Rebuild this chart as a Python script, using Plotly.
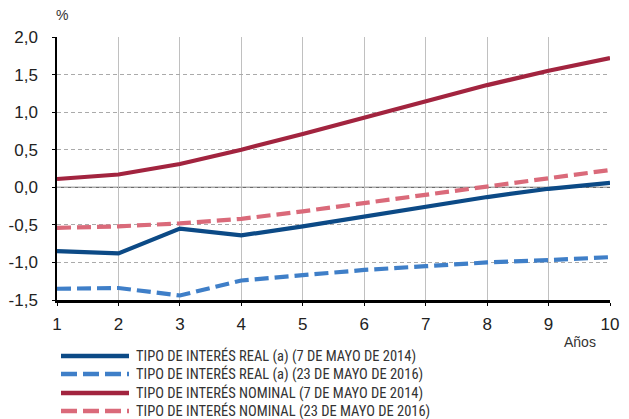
import plotly.graph_objects as go

years = [1, 2, 3, 4, 5, 6, 7, 8, 9, 10]
real_2014 = [-0.85, -0.88, -0.55, -0.64, -0.52, -0.39, -0.26, -0.13, -0.02, 0.06]
real_2016 = [-1.35, -1.34, -1.44, -1.24, -1.17, -1.10, -1.05, -1.00, -0.97, -0.93]
nominal_2014 = [0.11, 0.17, 0.31, 0.50, 0.71, 0.93, 1.15, 1.36, 1.55, 1.72]
nominal_2016 = [-0.54, -0.52, -0.48, -0.42, -0.32, -0.21, -0.10, 0.01, 0.12, 0.23]

names = [
    "TIPO DE INTERÉS REAL (a) (7 DE MAYO DE 2014)",
    "TIPO DE INTERÉS REAL (a) (23 DE MAYO DE 2016)",
    "TIPO DE INTERÉS NOMINAL (7 DE MAYO DE 2014)",
    "TIPO DE INTERÉS NOMINAL (23 DE MAYO DE 2016)",
]
series = [real_2014, real_2016, nominal_2014, nominal_2016]
colors = ["#0c4a86", "#3f7fc8", "#a2243f", "#da6a7a"]
dashes = ["solid", "14px,6px", "solid", "14px,6px"]
legend_dashes = ["solid", "16px,6px", "solid", "16px,6px"]

y_ticks = [-1.5, -1.0, -0.5, 0.0, 0.5, 1.0, 1.5, 2.0]
y_tick_labels = ["-1,5", "-1,0", "-0,5", "0,0", "0,5", "1,0", "1,5", "2,0"]

fig = go.Figure()
for i in [3, 2, 1, 0]:
    fig.add_trace(go.Scatter(
        x=years, y=series[i], mode="lines", name=names[i],
        line=dict(color=colors[i], width=4.2, dash=dashes[i]),
        showlegend=False,
    ))

# page body has an 8px margin; target coordinates are in window pixels
OFF = 8
W, H = 629 - OFF, 419 - OFF
PL, PR, PT, PB = 57, 610, 37, 300  # plot area in window pixels
L, T = PL - OFF, PT - OFF
R, B = 629 - PR, 419 - PB
pw, ph = PR - PL, PB - PT

def px_x(x):
    return (x - PL) / pw

def px_y(y):
    return (PB - y) / ph

shapes = []
annotations = []
legend_rows = [356, 374, 393, 411]
for i, ypx in enumerate(legend_rows):
    yp = px_y(ypx)
    shapes.append(dict(type="line", xref="paper", yref="paper",
                       x0=px_x(61), x1=px_x(129), y0=yp, y1=yp,
                       line=dict(color=colors[i], width=4.5, dash=legend_dashes[i])))
    annotations.append(dict(xref="paper", yref="paper", x=px_x(134), y=yp,
                            text=names[i], showarrow=False, xanchor="left", yanchor="middle",
                            font=dict(family="Liberation Sans Narrow, Roboto Condensed, DejaVu Sans Condensed, sans-serif",
                                      size=14.5, color="#333333")))

annotations.append(dict(xref="paper", yref="paper", x=px_x(62), y=px_y(15),
                        text="%", showarrow=False, xanchor="center", yanchor="middle",
                        font=dict(family="Liberation Sans, Arial, sans-serif", size=14, color="#333333")))
annotations.append(dict(xref="paper", yref="paper", x=px_x(580), y=px_y(342),
                        text="Años", showarrow=False, xanchor="center", yanchor="middle",
                        font=dict(family="Liberation Sans, Arial, sans-serif", size=14, color="#333333")))

shapes.append(dict(type="line", xref="paper", yref="y", x0=0, x1=1, y0=0, y1=0,
                   line=dict(color="#444444", width=1), layer="below"))

fig.update_layout(
    width=W, height=H,
    margin=dict(l=L, r=R, t=T, b=B, pad=0, autoexpand=False),
    plot_bgcolor="white", paper_bgcolor="white",
    font=dict(family="Liberation Sans, Arial, sans-serif", size=17, color="#222222"),
    shapes=shapes, annotations=annotations,
    xaxis=dict(range=[1, 10], tickvals=years, showgrid=True, gridcolor="#c0c0c0", gridwidth=1.2,
               showline=True, linecolor="black", linewidth=2.5, ticks="outside", ticklen=3,
               tickcolor="black", zeroline=False, ticklabelstandoff=4, automargin=False),
    yaxis=dict(range=[-1.5, 2.0], tickvals=y_ticks, ticktext=y_tick_labels, showgrid=True,
               gridcolor="#aaaaaa", griddash="4px,3px", gridwidth=1,
               showline=True, linecolor="black", linewidth=1.5, ticks="outside", ticklen=3,
               tickcolor="black", zeroline=False, ticklabelstandoff=11, automargin=False),
    showlegend=False,
)

fig.write_html("out.html")
